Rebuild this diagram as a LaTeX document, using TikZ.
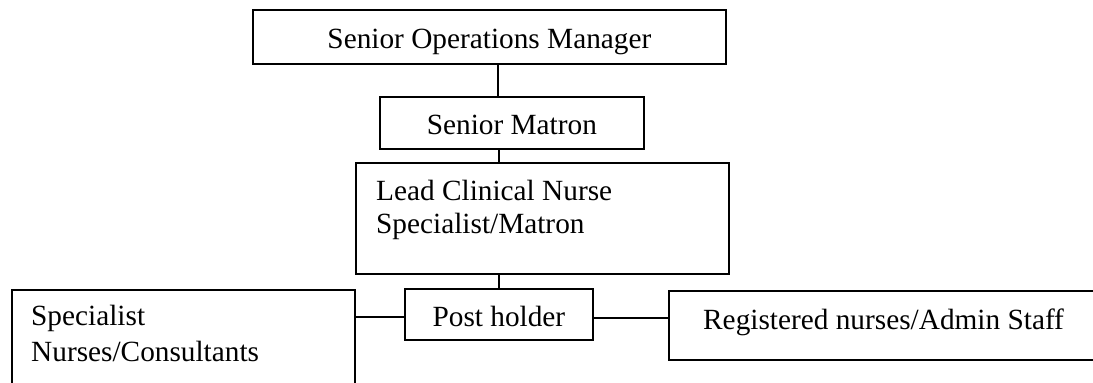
\documentclass[tikz,border=0pt]{standalone}
\usepackage{fontspec}
\setmainfont{Liberation Serif}
\begin{document}
\begin{tikzpicture}[x=1pt,y=-1pt,
  box/.style={draw,line width=1.8pt,rectangle,inner sep=0pt,anchor=north west},
  txt/.style={font=\fontsize{29.3}{34}\selectfont,inner sep=0pt},
  conn/.style={line width=1.8pt}]
\useasboundingbox (0,0) rectangle (1093,383);
\clip (0,0) rectangle (1093,383);
% boxes
\node[box,minimum width=473pt,minimum height=54pt] (som) at (252,9) {};
\node[box,minimum width=264pt,minimum height=52pt] (sm) at (379,96) {};
\node[box,minimum width=373pt,minimum height=111pt] (lead) at (355,162) {};
\node[box,minimum width=188pt,minimum height=51pt] (post) at (404,288) {};
\node[box,minimum width=343pt,minimum height=130pt] (spec) at (11,289) {};
\node[box,minimum width=460pt,minimum height=69pt] (reg) at (668,290) {};
% baselines
\coordinate (b1) at (0,48);
\coordinate (b2) at (0,134);
\coordinate (b3) at (0,326);
% texts
\node[txt,anchor=base] (tsom) at (som.center |- b1) {Senior Operations Manager};
\node[txt,anchor=base] (tsm) at (sm.center |- b2) {Senior Matron};
\node[txt,anchor=base west] (tlead1) at (376,200) {Lead Clinical Nurse};
\node[txt,anchor=base west] (tlead2) at (376,233) {Specialist/Matron};
\node[txt,anchor=base] (tpost) at (post.center |- b3) {Post holder};
\node[txt,anchor=base west] (tspec1) at (31,325) {Specialist};
\node[txt,anchor=base west] (tspec2) at (31,361) {Nurses/Consultants};
\node[txt,anchor=base west] (treg) at (703,329) {Registered nurses/Admin Staff};
% connectors
\coordinate (c1) at (498,0);
\coordinate (c2) at (499,0);
\coordinate (h1) at (0,317);
\coordinate (h2) at (0,318);
\draw[conn] (som.south -| c1) -- (sm.north -| c1);
\draw[conn] (sm.south -| c2) -- (lead.north -| c2);
\draw[conn] (lead.south -| c2) -- (post.north -| c2);
\draw[conn] (spec.east |- h1) -- (post.west |- h1);
\draw[conn] (post.east |- h2) -- (reg.west |- h2);
\end{tikzpicture}
\end{document}
